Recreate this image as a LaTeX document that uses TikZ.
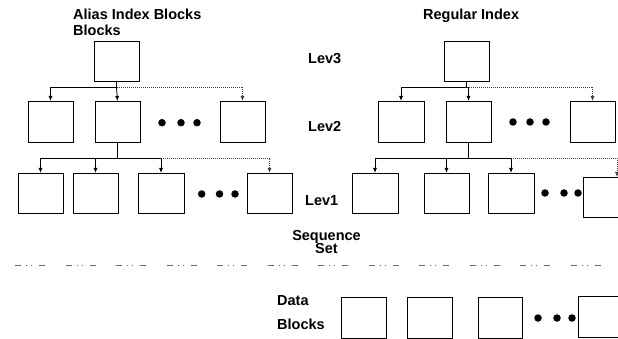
\documentclass[tikz,border=0pt]{standalone}
\usepackage{fontspec}
\setmainfont{Liberation Sans}
\usetikzlibrary{arrows.meta}
\begin{document}
\begin{tikzpicture}[x=1pt,y=-1pt,
  blk/.style={draw, line width=0.8pt, minimum width=45pt, minimum height=41pt, inner sep=0pt, outer sep=0pt},
  lbl/.style={font=\fontsize{14.5}{17}\selectfont\bfseries, inner sep=0pt, anchor=base west},
  clbl/.style={lbl, anchor=base},
  dotn/.style={circle, fill, minimum size=7.5pt, inner sep=0pt},
  lnk/.style={line width=0.8pt, -{Latex[length=5pt,width=4pt]}},
  dlnk/.style={lnk, black!75, dash pattern=on 1pt off 1pt},
  seqline/.style={line width=0.6pt, black!60, dash pattern=on 6pt off 5pt on 1pt off 4pt on 1pt off 7pt on 6pt off 20.5pt}]
\useasboundingbox (0,0) rectangle (618,339);
\clip (0,0) rectangle (618,339);

% labels
\node[lbl] (t1) at (73,20) {Alias Index Blocks};
\node[lbl] (t2) at (73,36) {Blocks};
\node[lbl] (t3) at (423,20) {Regular Index};
\node[lbl] (lv3) at (308,64) {Lev3};
\node[lbl] (lv2) at (308,132) {Lev2};
\node[lbl] (lv1) at (305,205) {Lev1};
\node[clbl] (sq1) at (326.5,240) {Sequence};
\node[clbl] (sq2) at (326.5,253) {Set};
\node[lbl] (dt1) at (277,305) {Data};
\node[lbl] (dt2) at (277,329) {Blocks};

% left tree
\node[blk, minimum height=40pt] (rA) at (116.5,61) {};
\node[blk] (a1) at (50.5,121.5) {};
\node[blk] (a2) at (117.5,121.5) {};
\node[blk] (a3) at (242.5,121.5) {};
\node[blk, minimum height=40pt] (b1) at (40.5,193) {};
\node[blk, minimum height=40pt] (b2) at (95.5,193) {};
\node[blk, minimum height=40pt, minimum width=46pt] (b3) at (161,193) {};
\node[blk, minimum height=40pt] (b4) at (269.5,193) {};

% right tree
\node[blk, minimum height=40pt] (rB) at (466.5,61) {};
\node[blk, minimum width=46pt] (c1) at (401,121.5) {};
\node[blk] (c2) at (468.5,121.5) {};
\node[blk] (c3) at (592.5,121.5) {};
\node[blk, minimum height=40pt, minimum width=46pt] (e1) at (375,193) {};
\node[blk, minimum height=40pt] (e2) at (446.5,193) {};
\node[blk, minimum height=40pt, minimum width=46pt] (e3) at (511,193) {};
\node[blk, minimum height=40pt, minimum width=46pt] (e4) at (606,197) {};

% data blocks
\node[blk] (f1) at (363.5,317.5) {};
\node[blk] (f2) at (429.5,317.5) {};
\node[blk, minimum width=44pt] (f3) at (500,317.5) {};
\node[blk, minimum width=47pt] (f4) at (601.5,316.5) {};

% dots
\node[dotn] (da1) at (162,122.7) {};
\node[dotn] (da2) at (181,122.7) {};
\node[dotn] (da3) at (197,122.7) {};
\node[dotn] (db1) at (201.7,194) {};
\node[dotn] (db2) at (219.5,194) {};
\node[dotn] (db3) at (235,194) {};
\node[dotn] (dc1) at (513,122) {};
\node[dotn] (dc2) at (530,122) {};
\node[dotn] (dc3) at (546,122) {};
\node[dotn] (de1) at (545,193) {};
\node[dotn] (de2) at (564,193) {};
\node[dotn] (de3) at (578,193) {};
\node[dotn] (df1) at (538,318) {};
\node[dotn] (df2) at (557,318) {};
\node[dotn] (df3) at (572,318) {};

% junctions
\coordinate (jA) at (rA.south |- 0,87);
\coordinate (kA) at (a2.south |- 0,158);
\coordinate (kA3) at (b3.north |- 0,158);
\coordinate (jB) at (rB.south |- 0,87);
\coordinate (kB) at (c2.south |- 0,158);
\coordinate (kB3) at (e3.north |- 0,158);

% left connectors
\draw[line width=0.8pt] (rA.south) -- (jA);
\draw[lnk] (jA) -| (a1);
\draw[lnk] (jA) -- (a2.north |- a2.north);
\draw[dlnk] (jA) -| (a3);
\draw[line width=0.8pt] (a2.south) -- (kA);
\draw[lnk] (kA) -| (b1);
\draw[lnk] (kA) -| (b2);
\draw[lnk] (kA) -| (b3);
\draw[dlnk] (kA3) -| (b4);

% right connectors
\draw[line width=0.8pt] (rB.south) -- (jB);
\draw[lnk] (jB) -| (c1);
\draw[lnk] (jB) -| (c2);
\draw[dlnk] (jB) -| (c3);
\draw[line width=0.8pt] (c2.south) -- (kB);
\draw[lnk] (kB) -| (e1);
\draw[lnk] (kB) -| (e2);
\draw[lnk] (kB) -| (e3);
\draw[dlnk] (kB3) -| ([xshift=11pt]e4.north);

% sequence set separator
\coordinate (s0) at (15,265);
\coordinate (s1) at (603,265);
\draw[seqline] (s0) -- (s1);
\end{tikzpicture}
\end{document}
